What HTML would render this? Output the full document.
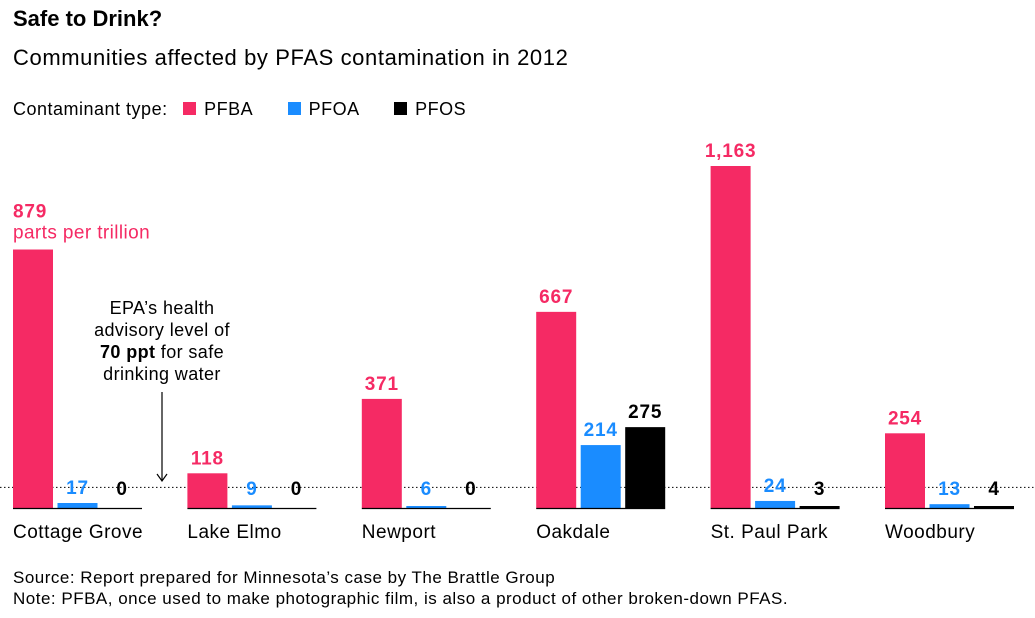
<!DOCTYPE html>
<html><head><meta charset="utf-8"><style>
body{margin:0;background:#fff;font-family:"Liberation Sans",sans-serif;}
#wrap{position:relative;width:1035px;height:618px;overflow:hidden;}
.t{position:absolute;white-space:nowrap;color:#000;}
</style></head><body>
<div id="wrap">
<div class="t" style="left:13px;top:6px;font-size:22px;font-weight:bold;">Safe to Drink?</div>
<div class="t" style="left:13px;top:45px;font-size:22px;letter-spacing:0.6px;">Communities affected by PFAS contamination in 2012</div>
<div class="t" style="left:13px;top:99px;font-size:18px;letter-spacing:0.5px;">Contaminant type:
<span style="margin-left:10px;"><span style="display:inline-block;width:13px;height:13px;background:#f52a64;margin-right:8px;"></span>PFBA</span>
<span style="margin-left:30px;"><span style="display:inline-block;width:13px;height:13px;background:#1a8cff;margin-right:8px;"></span>PFOA</span>
<span style="margin-left:30px;"><span style="display:inline-block;width:13px;height:13px;background:#000;margin-right:8px;"></span>PFOS</span></div>
<svg id="chart" width="1035" height="618" style="position:absolute;left:0;top:0;"></svg>
<div class="t" style="left:13px;top:567px;font-size:17px;line-height:21px;letter-spacing:0.5px;">Source: Report prepared for Minnesota’s case by The Brattle Group<br>Note: PFBA, once used to make photographic film, is also a product of other broken-down PFAS.</div>
</div>
<script>
const categories=["Cottage Grove","Lake Elmo","Newport","Oakdale","St. Paul Park","Woodbury"];
const pfba=[879,118,371,667,1163,254];
const pfoa=[17,9,6,214,24,13];
const pfos=[0,0,0,275,3,4];
const advisory=70;
const colors=["#f52a64","#1a8cff","#000000"];
const names=["pfba","pfoa","pfos"];
const svg=document.getElementById('chart');
const NS="http://www.w3.org/2000/svg";
const base=508, k=342/1163;
const y=v=>base-v*k;
const gx=i=>13+i*174.4;
const FF='Liberation Sans, sans-serif';
function mk(t,a){const e=document.createElementNS(NS,t);for(const p in a)e.setAttribute(p,a[p]);svg.appendChild(e);return e;}
const dl=mk('line',{x1:0,x2:1035,y1:y(advisory),y2:y(advisory),stroke:'#000','stroke-width':1,'stroke-dasharray':'1.5,2.5'});


const series=[pfba,pfoa,pfos];
categories.forEach((c,i)=>{
  const x0=gx(i);
  series.forEach((s,j)=>{
    const bx=x0+j*44.5, v=s[i];
    const h=Math.max(v*k,v>0?2:0);
    const r=mk('rect',{x:bx,y:base-h,width:40,height:h,fill:colors[j]});
    
    
    const lab=mk('text',{x:bx+20,y:Math.min(base-h,base-4)-9,'text-anchor':'middle','font-size':19,'font-weight':'bold','letter-spacing':0.8,fill:colors[j],'font-family':FF});
    lab.textContent=v.toLocaleString('en-US');
    if(i===0&&j===0){lab.setAttribute('x',bx);lab.setAttribute('text-anchor','start');lab.setAttribute('y',y(v)-32);}
    
    
  });
  const bl=mk('line',{x1:x0,x2:x0+129,y1:base+0.5,y2:base+0.5,stroke:'#000','stroke-width':1.2});
  
  
  const cl=mk('text',{x:x0,y:538,'font-size':19,'letter-spacing':0.5,fill:'#000','font-family':FF});
  cl.textContent=c;
  
  
});
const u=mk('text',{x:gx(0),y:y(pfba[0])-11,'font-size':19,'letter-spacing':0.4,fill:colors[0],'font-family':FF});
u.textContent='parts per trillion';


const ann=["EPA’s health","advisory level of","","drinking water"];
const at=mk('text',{x:162,'font-size':18,'letter-spacing':0.4,fill:'#000','text-anchor':'middle','font-family':FF});


ann.forEach((t,i)=>{const ts=document.createElementNS(NS,'tspan');ts.setAttribute('x',162);ts.setAttribute('y',314+i*22);
 if(i===2){ts.innerHTML='<tspan font-weight="bold">70 ppt</tspan> for safe';}else ts.textContent=t;at.appendChild(ts);});
const ar=mk('line',{x1:162,x2:162,y1:392,y2:480,stroke:'#000','stroke-width':1.2});


const ah=mk('path',{d:'M157,474 L162,481 L167,474',fill:'none',stroke:'#000','stroke-width':1.2});


</script>
</body></html>
